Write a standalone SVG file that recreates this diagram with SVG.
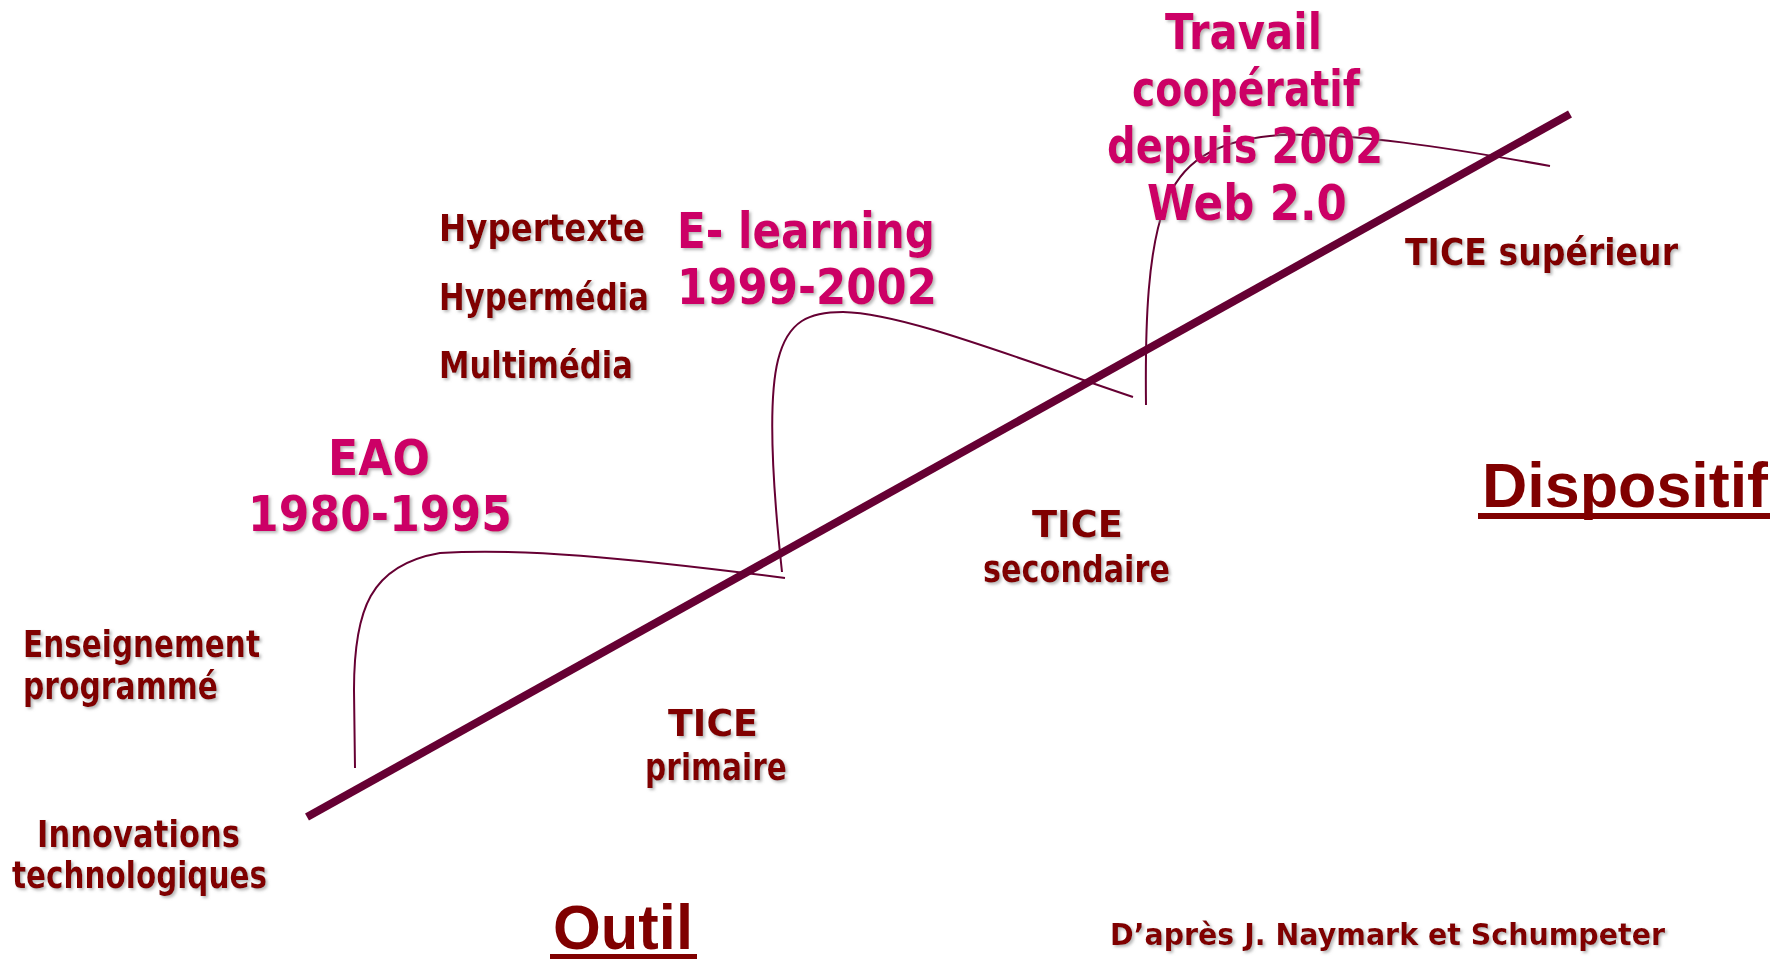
<svg xmlns="http://www.w3.org/2000/svg" width="1784" height="962" viewBox="0 0 1784 962">
<style>
.m{font-family:"DejaVu Sans","Liberation Sans",sans-serif;font-weight:bold;font-size:38px;fill:#800000}
.p{font-family:"DejaVu Sans","Liberation Sans",sans-serif;font-weight:bold;font-size:50px;fill:#CC0066}
.s{font-family:"DejaVu Sans","Liberation Sans",sans-serif;font-weight:bold;font-size:30px;fill:#800000}
.big{font-family:"Liberation Sans",Arial,sans-serif;font-weight:bold;font-size:63px;fill:#800000}
.c{fill:none;stroke:#660033;stroke-width:2}
.axis{fill:none;stroke:#660033;stroke-width:8}
.ul{fill:#800000}
</style>
<defs>
<filter id="sh" x="-10%" y="-30%" width="130%" height="160%">
<feDropShadow dx="2" dy="2" stdDeviation="1.5" flood-color="#888888" flood-opacity="0.6"/>
</filter>
</defs>
<rect width="1784" height="962" fill="#ffffff"/>
<g id="connectors">
<line class="axis" x1="307" y1="817" x2="1570" y2="114"/>
<path class="c" d="M355,768 L354,690 C354,610 370,565 440,553 C520,548 620,557 785,578"/>
<path class="c" d="M782,572 C772,480 768,400 778,360 C788,320 810,312 843,312 C900,313 1000,352 1133,397"/>
<path class="c" d="M1146,405 C1145,320 1148,250 1165,205 C1180,165 1210,140 1280,135 C1350,132 1450,148 1550,166"/>
</g>
<g filter="url(#sh)">
<g id="enseignement">
<text class="m" x="23" y="657" textLength="237" lengthAdjust="spacingAndGlyphs">Enseignement</text>
<text class="m" x="23" y="699" textLength="195" lengthAdjust="spacingAndGlyphs">programmé</text>
</g>
<g id="innovations">
<text class="m" x="37" y="847" textLength="203" lengthAdjust="spacingAndGlyphs">Innovations</text>
<text class="m" x="12" y="888" textLength="255" lengthAdjust="spacingAndGlyphs">technologiques</text>
</g>
<g id="eao">
<text class="p" x="328" y="475" textLength="102" lengthAdjust="spacingAndGlyphs">EAO</text>
<text class="p" x="248" y="531" textLength="264" lengthAdjust="spacingAndGlyphs">1980-1995</text>
</g>
<g id="hyper">
<text class="m" x="439" y="241" textLength="206" lengthAdjust="spacingAndGlyphs">Hypertexte</text>
<text class="m" x="439" y="310" textLength="210" lengthAdjust="spacingAndGlyphs">Hypermédia</text>
<text class="m" x="439" y="378" textLength="194" lengthAdjust="spacingAndGlyphs">Multimédia</text>
</g>
<g id="elearning">
<text class="p" x="677" y="248" textLength="258" lengthAdjust="spacingAndGlyphs">E- learning</text>
<text class="p" x="677" y="304" textLength="260" lengthAdjust="spacingAndGlyphs">1999-2002</text>
</g>
<g id="travail">
<text class="p" x="1165" y="49" textLength="157" lengthAdjust="spacingAndGlyphs">Travail</text>
<text class="p" x="1132" y="106" textLength="228" lengthAdjust="spacingAndGlyphs">coopératif</text>
<text class="p" x="1107" y="163" textLength="276" lengthAdjust="spacingAndGlyphs">depuis 2002</text>
<text class="p" x="1147" y="220" textLength="200" lengthAdjust="spacingAndGlyphs">Web 2.0</text>
</g>
<g id="tice-sup">
<text class="m" x="1405" y="265" textLength="273" lengthAdjust="spacingAndGlyphs">TICE supérieur</text>
</g>
<g id="tice-sec">
<text class="m" x="1032" y="537" textLength="91" lengthAdjust="spacingAndGlyphs">TICE</text>
<text class="m" x="983" y="582" textLength="187" lengthAdjust="spacingAndGlyphs">secondaire</text>
</g>
<g id="tice-prim">
<text class="m" x="668" y="736" textLength="90" lengthAdjust="spacingAndGlyphs">TICE</text>
<text class="m" x="645" y="780" textLength="142" lengthAdjust="spacingAndGlyphs">primaire</text>
</g>
<g id="source">
<text class="s" x="1110" y="945" textLength="555" lengthAdjust="spacingAndGlyphs">D’après J. Naymark et Schumpeter</text>
</g>
</g>
<g id="outil">
<text class="big" x="553" y="949" textLength="140" lengthAdjust="spacingAndGlyphs">Outil</text>
<rect class="ul" x="550" y="954" width="147" height="5"/>
</g>
<g id="dispositif">
<text class="big" x="1482" y="507" textLength="286" lengthAdjust="spacingAndGlyphs">Dispositif</text>
<rect class="ul" x="1478" y="513" width="292" height="6"/>
</g>
</svg>
